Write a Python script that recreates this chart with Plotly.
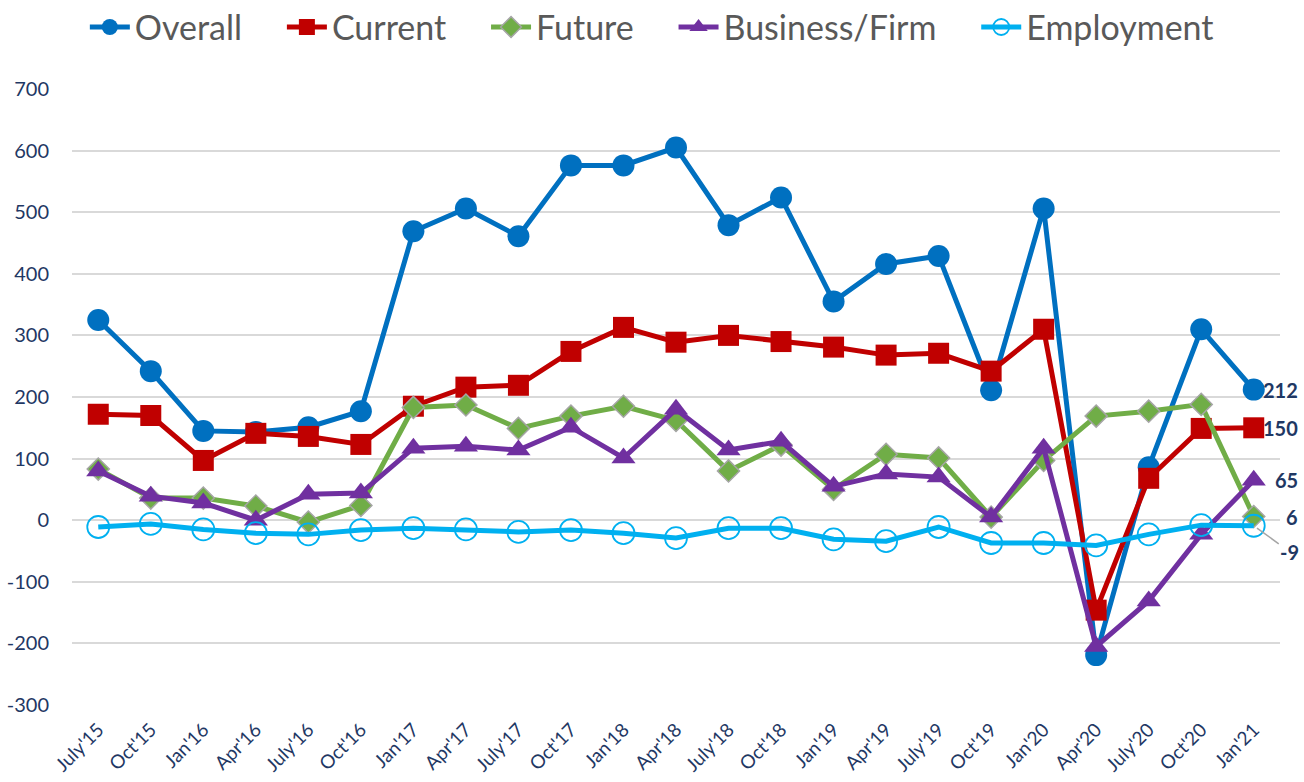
import plotly.graph_objects as go

quarters = ["July'15", "Oct'15", "Jan'16", "Apr'16", "July'16", "Oct'16",
            "Jan'17", "Apr'17", "July'17", "Oct'17", "Jan'18", "Apr'18",
            "July'18", "Oct'18", "Jan'19", "Apr'19", "July'19", "Oct'19",
            "Jan'20", "Apr'20", "July'20", "Oct'20", "Jan'21"]

overall = [325, 242, 145, 143, 151, 177, 469, 506, 461, 576, 576, 605,
           479, 524, 355, 416, 429, 211, 506, -219, 86, 310, 212]
current = [172, 170, 97, 141, 136, 123, 185, 216, 219, 274, 313, 289,
           300, 290, 281, 268, 271, 242, 310, -146, 68, 149, 150]
future = [83, 36, 36, 23, -3, 24, 183, 187, 149, 169, 185, 162,
          80, 122, 50, 107, 101, 5, 97, 169, 177, 188, 6]
business = [80, 39, 28, 0, 42, 44, 117, 120, 114, 151, 101, 180,
            114, 128, 55, 75, 70, 5, 117, -205, -131, -23, 65]
employment = [-11, -6, -15, -21, -23, -16, -13, -15, -19, -16, -21, -29,
              -13, -13, -31, -34, -11, -37, -37, -41, -23, -8, -9]

y_ticks = [-300, -200, -100, 0, 100, 200, 300, 400, 500, 600, 700]

navy = "#1F3864"
font = "Lato"
pad = "\u00a0" * 4

fig = go.Figure()
fig.add_trace(go.Scatter(x=quarters, y=overall, name="Overall" + pad, mode="lines+markers",
                         line=dict(color="#0070C0", width=5),
                         marker=dict(symbol="circle", size=22, color="#0070C0")))
fig.add_trace(go.Scatter(x=quarters, y=current, name="Current" + pad, mode="lines+markers",
                         line=dict(color="#C00000", width=5),
                         marker=dict(symbol="square", size=21, color="#C00000")))
fig.add_trace(go.Scatter(x=quarters, y=future, name="Future" + pad, mode="lines+markers",
                         line=dict(color="#70AD47", width=5),
                         marker=dict(symbol="diamond", size=17, color="#70AD47",
                                     line=dict(color="#A5A5A5", width=1.5))))
fig.add_trace(go.Scatter(x=quarters, y=business, name="Business/Firm" + pad, mode="lines+markers",
                         line=dict(color="#7030A0", width=5),
                         marker=dict(symbol="triangle-up", size=21, color="#7030A0")))
fig.add_trace(go.Scatter(x=quarters, y=employment, name="Employment", mode="lines+markers",
                         line=dict(color="#00B0F0", width=5),
                         marker=dict(symbol="circle-open", size=22, color="#00B0F0",
                                     line=dict(width=1.8))))

# end-of-series labels
last = quarters[-1]
for val in [overall[-1], current[-1], business[-1], future[-1]]:
    fig.add_annotation(x=1.0, xref="paper", y=val, yref="y", text="<b>%d</b>" % val,
                       showarrow=False, xanchor="right", xshift=20,
                       font=dict(family=font, size=20, color=navy))
fig.add_annotation(x=last, y=employment[-1], text="<b>%d</b>" % employment[-1],
                   showarrow=True, arrowhead=0, arrowcolor="#A5A5A5", arrowwidth=1.5,
                   ax=36, ay=26, standoff=4,
                   font=dict(family=font, size=20, color=navy))

fig.update_layout(
    width=1304, height=782,
    margin=dict(l=72, r=24, t=89, b=77, autoexpand=False),
    paper_bgcolor="white", plot_bgcolor="white",
    font=dict(family=font, color=navy),
    showlegend=True,
    legend=dict(orientation="h", x=0.48, xanchor="center", y=1.1, yanchor="middle",
                font=dict(family=font, size=34, color="#595959"),
                itemwidth=40),
    xaxis=dict(range=[-0.5, 22.5], showgrid=False, zeroline=False, showline=False,
               tickangle=-45, tickfont=dict(family=font, size=19, color=navy),
               ticks="", automargin=False, ticklabelstandoff=9),
    yaxis=dict(range=[-300, 700], tickvals=y_ticks, ticktext=[str(v) for v in y_ticks],
               showgrid=True, gridcolor="#D9D9D9", gridwidth=1.5, zeroline=False,
               showline=False, automargin=False,
               tickfont=dict(family=font, size=20, color=navy), ticklabelstandoff=22),
)

fig.write_html("out.html", config={"displayModeBar": False},
               post_script="document.body.style.margin='0';")
